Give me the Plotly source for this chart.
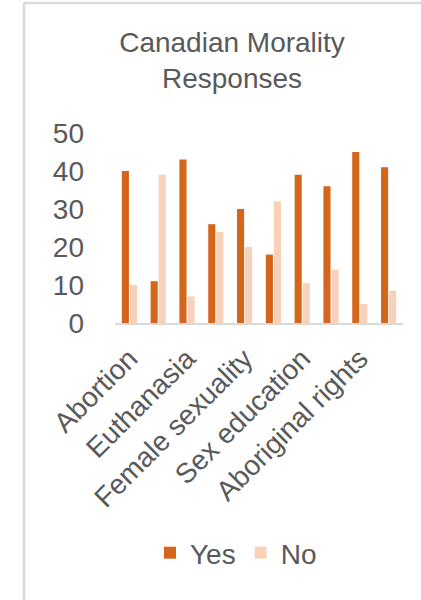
import plotly.graph_objects as go

categories = ["Abortion", "Same-sex marriage", "Euthanasia", "Death penalty",
              "Female sexuality", "Pornography", "Sex education", "Marijuana",
              "Aboriginal rights", "Immigration"]
shown_labels = ["Abortion", "Euthanasia", "Female sexuality", "Sex education", "Aboriginal rights"]
yes_values = [40, 11, 43, 26, 30, 18, 39, 36, 45, 41]
no_values = [10, 39, 7, 24, 20, 32, 10.5, 14, 5, 8.5]

TXT = "#595959"
FONT = "Liberation Sans, Arial, sans-serif"

fig = go.Figure()
fig.add_trace(go.Bar(name="Yes", x=categories, y=yes_values,
                     marker=dict(color="#d4661b", line=dict(width=0))))
fig.add_trace(go.Bar(name="No", x=categories, y=no_values,
                     marker=dict(color="#f8d2b8", line=dict(width=0))))

L, R, T, B = 115, 18, 133, 277
W, H = 421, 600
pw, ph = W - L - R, H - T - B

def px(x):
    return (x - L) / pw

def py(y):
    return (H - B - y) / ph

fig.update_layout(
    width=W, height=H,
    margin=dict(l=L, r=R, t=T, b=B),
    paper_bgcolor="white", plot_bgcolor="white",
    font=dict(family=FONT, color=TXT, size=28),
    barmode="group", bargap=0.44, bargroupgap=0.12,
    title=dict(text="Canadian Morality<br>Responses", x=px(232), xanchor="center",
               xref="paper", y=1 - 52 / H, yanchor="top",
               font=dict(size=28, color=TXT, family=FONT)),
    showlegend=True,
    legend=dict(orientation="h", x=px(236), xanchor="center", y=py(553), yanchor="middle",
                font=dict(size=28, color=TXT, family=FONT), itemwidth=30,
                bgcolor="rgba(0,0,0,0)"),
    xaxis=dict(tickmode="array", tickvals=shown_labels, ticktext=shown_labels,
               tickangle=-45, showline=True, linecolor="#d9d9d9", linewidth=2,
               ticks="", showgrid=False, ticklabelstandoff=6,
               tickfont=dict(size=28, color=TXT)),
    yaxis=dict(range=[0, 50], dtick=10, showgrid=False, zeroline=False,
               showline=False, ticks="", ticklabelstandoff=30,
               tickfont=dict(size=28, color=TXT)),
    shapes=[
        dict(type="line", xref="paper", yref="paper", x0=px(24), x1=px(W + 5),
             y0=py(3), y1=py(3), line=dict(color="#d9d9d9", width=2.5)),
        dict(type="line", xref="paper", yref="paper", x0=px(24), x1=px(24),
             y0=py(3), y1=py(H + 5), line=dict(color="#d9d9d9", width=2.5)),
    ],
)

fig.write_html("out.html")
